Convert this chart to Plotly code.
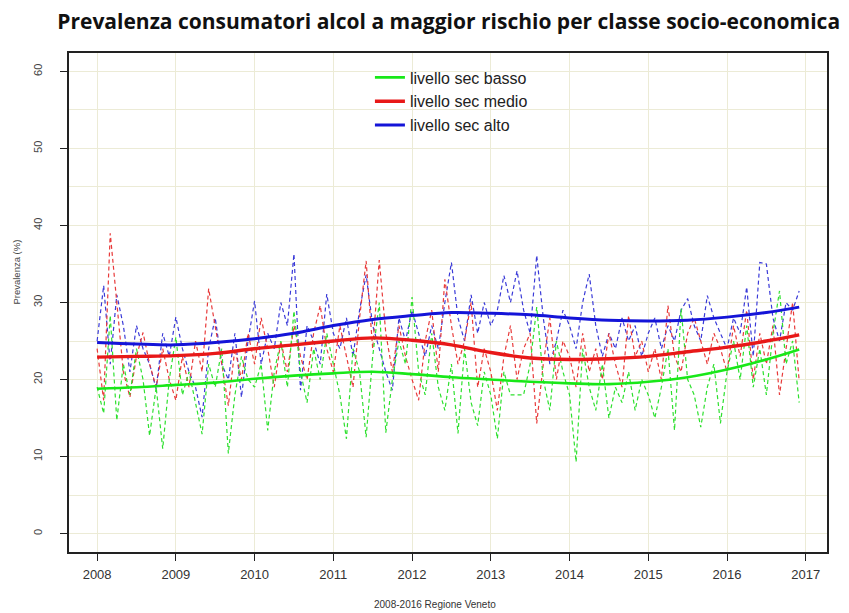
import plotly.graph_objects as go

# ---------------- data ----------------
month_index = list(range(108))  # Jan 2008 .. Dec 2016
start_year = 2008

basso = [19, 15.6, 28.3, 14.7, 22, 18, 24, 20, 12.7, 19, 11.0, 20,
         25.5, 18, 21, 17, 12.9, 22, 19, 24, 10.4, 18, 23, 20,
         19, 22, 13.4, 21, 25, 19, 28.9, 21, 17, 24, 20, 26,
         22, 18, 12.3, 24, 21, 12.5, 23, 30, 13.1, 20, 25, 22,
         30.7, 21, 18, 26, 19, 16, 22, 13, 24, 17, 14, 21,
         18, 12.3, 21, 18, 18, 18, 22, 29.4, 20, 16, 25, 21,
         18, 9.3, 24, 19, 16, 22, 15, 19, 17, 21, 16, 20,
         18, 15, 19, 24, 13.4, 29.2, 20, 18, 13.8, 19, 22, 14.3,
         21, 25, 20, 27, 19, 24, 18, 26, 31.5, 22, 25, 17]

medio = [24, 17.3, 39, 30, 21, 17.7, 23, 26.1, 22, 19, 24, 20,
         17.3, 23, 19, 25, 21, 31.8, 27, 22, 16.6, 24, 20, 26,
         22, 28, 24, 19, 25, 21, 27, 23, 20, 26, 29.6, 24,
         21, 27, 23, 19, 28, 35.4, 24, 35.5, 26, 21, 27, 23,
         20, 17.3, 25, 29, 21, 33, 27, 22, 25, 30, 19, 24,
         21, 16, 23, 27, 20, 24, 26, 14.3, 22, 28, 20, 25,
         23, 19, 26, 21, 24, 20, 26, 22, 19, 28.3, 23, 25,
         21, 24, 20, 29.6, 23, 21, 26, 28, 25, 22, 26, 24,
         21, 27, 23, 29, 20, 26, 22, 27, 18, 24, 30, 19.8]

alto = [25, 32.2, 22, 31, 27, 21, 27, 24, 22, 18.8, 26, 23,
        28.1, 24, 21, 19, 15.1, 24, 28, 22, 20, 26, 17.7, 25,
        30.2, 22, 26, 24, 30, 27, 36.3, 18.6, 27, 25, 22, 31.1,
        26, 24, 28, 23, 29, 33.6, 27, 24, 21, 18.6, 28, 25,
        29, 26, 23, 27, 24, 30, 35.2, 28, 25, 31, 26, 30,
        27, 29, 33.5, 30, 34.1, 29, 26, 36.1, 28, 22, 25, 29,
        27, 24, 30, 33.7, 27, 23, 26, 24, 28, 25, 27, 23,
        26, 28, 24, 27, 25, 29, 30.5, 27, 25, 30.9, 28, 26,
        24, 28, 26, 32, 23, 35.2, 35, 28, 25, 30, 29, 31.5]

smooth_x = [2008, 2008.5, 2009, 2009.5, 2010, 2010.5, 2011, 2011.5, 2012,
            2012.5, 2013, 2013.5, 2014, 2014.5, 2015, 2015.5, 2016, 2016.5, 2016.917]
smooth_basso = [18.8, 19.0, 19.3, 19.6, 20.1, 20.5, 20.8, 21.0, 20.7,
                20.3, 20.0, 19.7, 19.5, 19.4, 19.7, 20.3, 21.3, 22.6, 23.9]
smooth_medio = [22.9, 23.0, 23.1, 23.4, 24.0, 24.5, 25.0, 25.4, 25.1,
                24.5, 23.5, 22.8, 22.6, 22.7, 23.0, 23.6, 24.2, 25.0, 25.8]
smooth_alto = [24.8, 24.6, 24.5, 24.8, 25.3, 26.0, 27.0, 27.8, 28.3,
               28.7, 28.6, 28.4, 28.0, 27.7, 27.6, 27.7, 28.1, 28.7, 29.4]

series_names = ["livello sec basso", "livello sec medio", "livello sec alto"]
year_ticks = list(range(2008, 2018))
y_ticks = [0, 10, 20, 30, 40, 50, 60]

title_text = "Prevalenza consumatori alcol a maggior rischio per classe socio-economica"
x_title = "2008-2016 Regione Veneto"
y_title = "Prevalenza (%)"

# ---------------- figure ----------------
x_months = [start_year + m / 12 for m in month_index]

dash_colors = ["#2ee02e", "#e83a3a", "#3a3ad8"]
solid_colors = ["#18e818", "#e81818", "#1414d8"]
solid_widths = [2.6, 3.4, 3.0]

fig = go.Figure()
for vals, col in zip([alto, medio, basso], dash_colors[::-1]):
    fig.add_trace(go.Scatter(x=x_months, y=vals, mode="lines",
                             line=dict(color=col, width=1.2, dash="4px,3px"),
                             showlegend=False, hoverinfo="skip"))

for name, vals, col, w in zip(series_names, [smooth_basso, smooth_medio, smooth_alto],
                              solid_colors, solid_widths):
    fig.add_trace(go.Scatter(x=smooth_x, y=vals, mode="lines", name=name,
                             line=dict(color=col, width=w, shape="spline", smoothing=1.0)))

grid_col = "#ecebd6"
# page body has an 8px margin, so the figure is 8px smaller and margins 8px less
fig.update_layout(
    width=841, height=605,
    margin=dict(l=61, r=22, t=45, b=61),
    paper_bgcolor="white", plot_bgcolor="white",
    title=dict(text=f"<b>{title_text}</b>", x=0.524, xanchor="center", y=0.977, yanchor="middle",
               font=dict(family="Open Sans", size=21, color="#111")),
    font=dict(family="Liberation Sans", color="#333"),
    legend=dict(x=0.397, y=0.985, xanchor="left", yanchor="top",
                bgcolor="rgba(0,0,0,0)", font=dict(size=16, color="#222"),
                itemwidth=30),
    showlegend=True,
)
fig.update_xaxes(range=[2007.643, 2017.27], tickvals=year_ticks, ticktext=[str(y) for y in year_ticks],
                 showline=True, linecolor="#222", linewidth=1.5, mirror=True,
                 ticks="outside", ticklen=7, tickcolor="#222", tickwidth=1.2,
                 showgrid=True, gridcolor=grid_col, gridwidth=1, zeroline=False,
                 ticklabelstandoff=3,
                 tickfont=dict(size=13, color="#333"))
fig.update_yaxes(range=[-2.4, 62.4], tickvals=y_ticks, tickangle=-90,
                 showline=True, linecolor="#222", linewidth=1.5, mirror=True,
                 ticks="outside", ticklen=7, tickcolor="#222", tickwidth=1.2,
                 showgrid=True, gridcolor=grid_col, gridwidth=1, zeroline=False,
                 minor=dict(dtick=5, showgrid=True, gridcolor=grid_col, gridwidth=1),
                 ticklabelstandoff=14,
                 tickfont=dict(size=11, color="#444"))

fig.add_annotation(text=x_title, xref="paper", yref="paper", x=0.483, y=0, yshift=-52,
                   showarrow=False, font=dict(size=10, color="#333"), yanchor="middle")
fig.add_annotation(text=y_title, xref="paper", yref="paper", x=0, y=0.56, xshift=-52,
                   showarrow=False, textangle=-90, font=dict(size=9.5, color="#444"), xanchor="center")

fig.write_html("out.html")
